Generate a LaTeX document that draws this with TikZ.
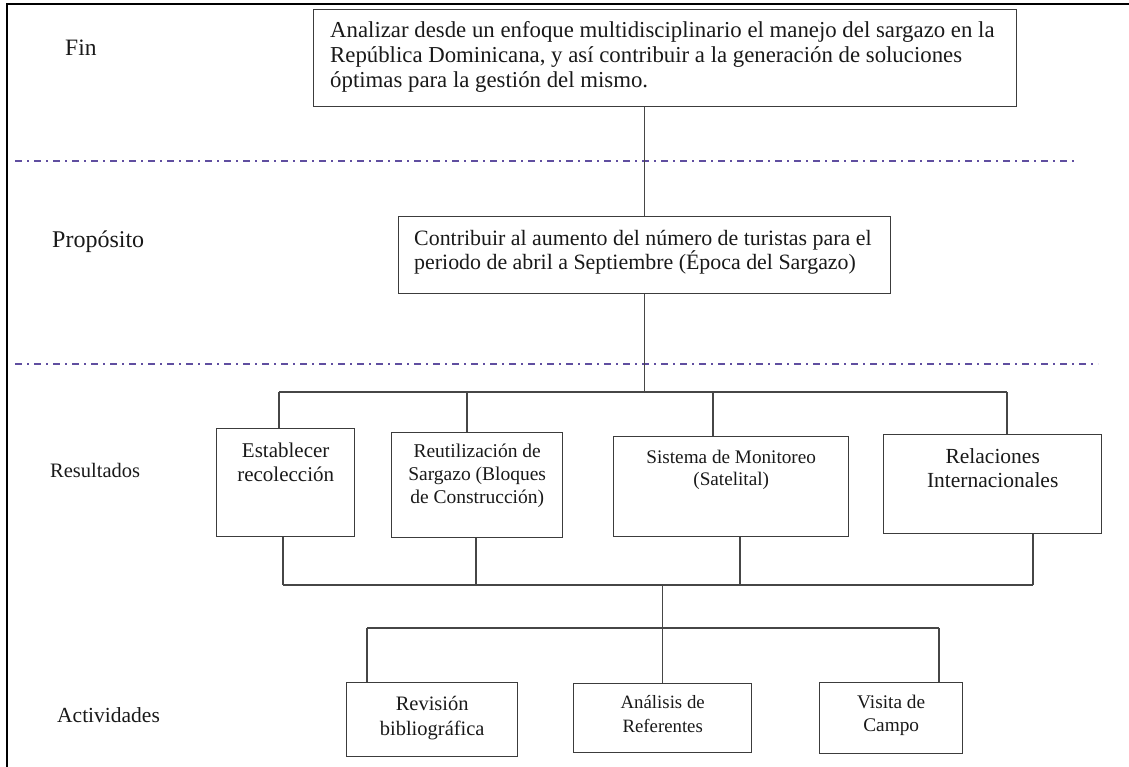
\documentclass[tikz,border=0pt]{standalone}
\usepackage{fontspec}
\setmainfont{Liberation Serif}
\definecolor{boxc}{RGB}{60,60,60}
\definecolor{linec}{RGB}{70,70,70}
\definecolor{sepc}{RGB}{96,78,160}
\definecolor{txtc}{RGB}{25,25,25}
\begin{document}
\begin{tikzpicture}[x=1pt,y=-1pt,
  box/.style={draw=boxc, line width=1.4pt, anchor=north west, inner sep=0pt},
  txt/.style={inner sep=0pt, align=center, text=txtc, font=\fontsize{20}{24.5}\selectfont},
  lbl/.style={inner sep=0pt, anchor=base west, text=txtc, font=\fontsize{20.5}{24}\selectfont},
  conn/.style={draw=linec, line width=1.4pt},
  sepline/.style={draw=sepc, line width=2pt, dash pattern=on 7pt off 5pt on 2pt off 5pt}]
\useasboundingbox (0,0) rectangle (1129,767);
% outer frame (left and top)
\coordinate (fr0) at (7,767);
\coordinate (fr1) at (7,4);
\coordinate (fr2) at (1129,4);
\draw[line width=2.4pt, black] (fr0) -- (fr1) -- (fr2);

% row labels
\node[lbl, font=\fontsize{23.5}{26}\selectfont] (lfin) at (65,56) {Fin};
\node[lbl, font=\fontsize{24}{26}\selectfont] (lprop) at (52,248) {Propósito};
\node[lbl] (lres) at (50,477) {Resultados};
\node[lbl, font=\fontsize{21.5}{24}\selectfont] (lact) at (57,722) {Actividades};

% separators
\coordinate (s1a) at (15,161);
\coordinate (s1b) at (1075,161);
\coordinate (s2a) at (15,364);
\coordinate (s2b) at (1098,364);
\draw[sepline] (s1a) -- (s1b);
\draw[sepline] (s2a) -- (s2b);

% goal
\node[box, minimum width=703pt, minimum height=97pt] (goal) at (313,9) {};
\node[txt, align=left, anchor=north west, font=\fontsize{22.8}{25.3}\selectfont] (goaltxt) at (330,21)
  {Analizar desde un enfoque multidisciplinario el manejo del sargazo en la\\República Dominicana, y así contribuir a la generación de soluciones\\óptimas para la gestión del mismo.};

% purpose
\node[box, minimum width=492pt, minimum height=77pt] (prop) at (398,216) {};
\node[txt, align=left, anchor=north west, font=\fontsize{21.9}{23}\selectfont] (proptxt) at (414,230)
  {Contribuir al aumento del número de turistas para el\\periodo de abril a Septiembre (Época del Sargazo)};

% results
\node[box, minimum width=138pt, minimum height=108pt] (r1) at (216,428) {};
\node[box, minimum width=171pt, minimum height=105pt] (r2) at (391,432) {};
\node[box, minimum width=235pt, minimum height=100pt] (r3) at (613,436) {};
\node[box, minimum width=218pt, minimum height=99pt] (r4) at (883,434) {};
\node[txt, anchor=north, font=\fontsize{21}{24}\selectfont] (r1t) at ([yshift=-15pt]r1.north) {Establecer\\recolección};
\node[txt, anchor=north, font=\fontsize{19.5}{23}\selectfont] (r2t) at ([yshift=-12pt]r2.north) {Reutilización de\\Sargazo (Bloques\\de Construcción)};
\node[txt, anchor=north, font=\fontsize{19.2}{22}\selectfont] (r3t) at ([yshift=-14pt]r3.north) {Sistema de Monitoreo\\(Satelital)};
\node[txt, anchor=north, font=\fontsize{21.5}{24}\selectfont] (r4t) at ([yshift=-14pt]r4.north) {Relaciones\\Internacionales};

% activities
\node[box, minimum width=171pt, minimum height=74pt] (a1) at (346,682) {};
\node[box, minimum width=178pt, minimum height=69pt] (a2) at (573,683) {};
\node[box, minimum width=143pt, minimum height=71pt] (a3) at (819,682) {};
\node[txt, anchor=north, font=\fontsize{20.5}{25}\selectfont] (a1t) at ([yshift=-14pt]a1.north) {Revisión\\bibliográfica};
\node[txt, anchor=north, font=\fontsize{18.8}{24}\selectfont] (a2t) at ([yshift=-12pt]a2.north) {Análisis de\\Referentes};
\node[txt, anchor=north, font=\fontsize{19.3}{23}\selectfont] (a3t) at ([yshift=-13pt]a3.north) {Visita de\\Campo};

% connectors: goal -> purpose
\draw[conn] (prop.north |- goal.south) -- (prop.north);
% purpose -> results
\coordinate (d1) at (279,392);
\coordinate (d2) at (467,392);
\coordinate (d3) at (713,392);
\coordinate (d4) at (1007,392);
\draw[conn] (prop.south) -- (prop.south |- d1);
\draw[conn] (d1) -- (d4);
\draw[conn] (d1) -- (d1 |- r1.north);
\draw[conn] (d2) -- (d2 |- r2.north);
\draw[conn] (d3) -- (d3 |- r3.north);
\draw[conn] (d4) -- (d4 |- r4.north);
% results -> activities
\coordinate (u1) at (283,585);
\coordinate (u2) at (476,585);
\coordinate (u3) at (740,585);
\coordinate (u4) at (1033,585);
\draw[conn] (u1 |- r1.south) -- (u1);
\draw[conn] (u2 |- r2.south) -- (u2);
\draw[conn] (u3 |- r3.south) -- (u3);
\draw[conn] (u4 |- r4.south) -- (u4);
\draw[conn] (u1) -- (u4);
\coordinate (v1) at (367,628);
\coordinate (v3) at (939,628);
\draw[conn] (a2.north |- u1) -- (a2.north);
\draw[conn] (v1) -- (v3);
\draw[conn] (v1) -- (v1 |- a1.north);
\draw[conn] (v3) -- (v3 |- a3.north);
\end{tikzpicture}
\end{document}
